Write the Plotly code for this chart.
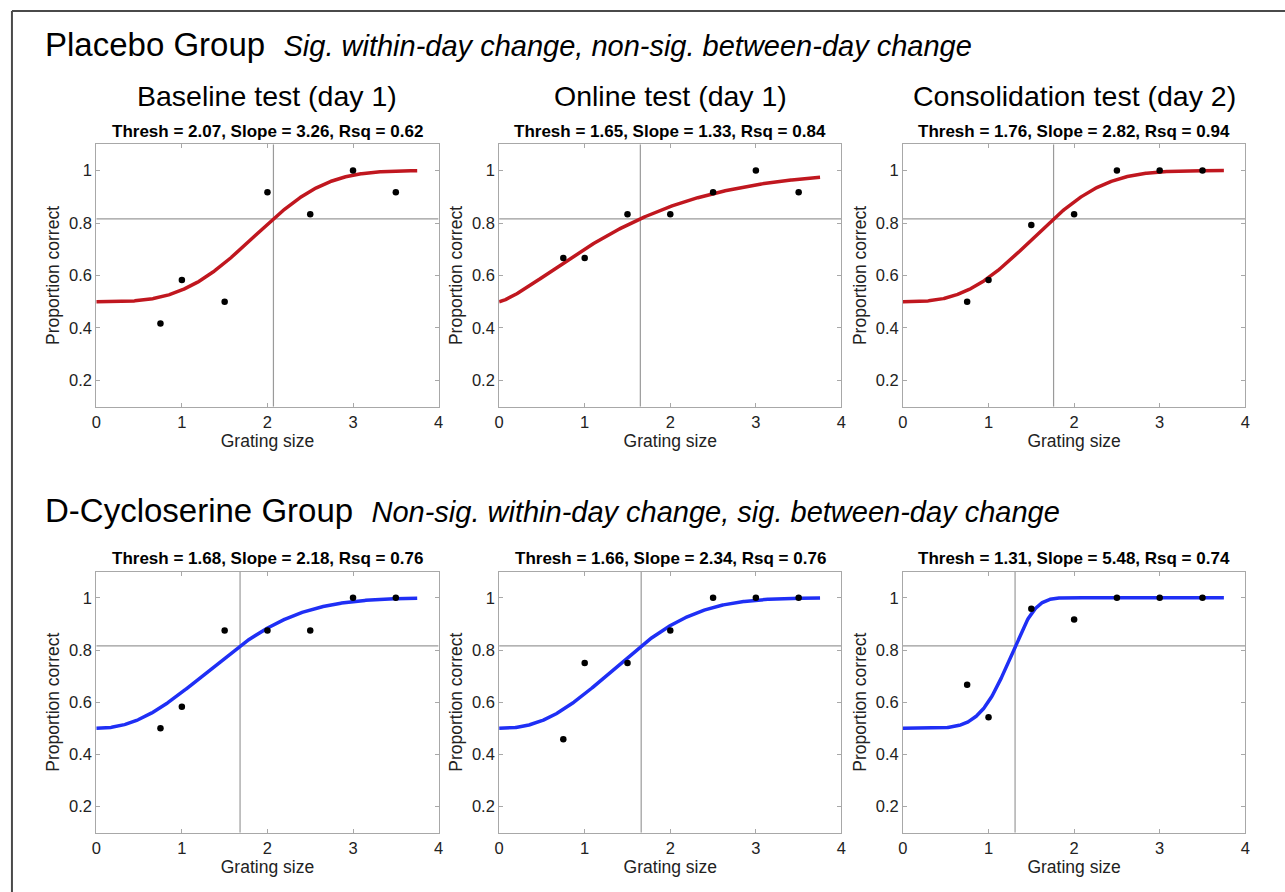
import numpy as np
import plotly.graph_objects as go

# ---- data ----
grating_sizes = [0.75, 1.0, 1.5, 2.0, 2.5, 3.0, 3.5]

placebo_baseline = [0.417, 0.583, 0.500, 0.917, 0.833, 1.000, 0.917]
placebo_online = [0.667, 0.667, 0.833, 0.833, 0.917, 1.000, 0.917]
placebo_consol = [0.500, 0.583, 0.792, 0.833, 1.000, 1.000, 1.000]
dcs_baseline = [0.500, 0.583, 0.875, 0.875, 0.875, 1.000, 1.000]
dcs_online = [0.458, 0.750, 0.750, 0.875, 1.000, 1.000, 1.000]
dcs_consol = [0.667, 0.542, 0.958, 0.917, 1.000, 1.000, 1.000]

thresholds = [2.07, 1.65, 1.76, 1.68, 1.66, 1.31]
slopes = [3.26, 1.33, 2.82, 2.18, 2.34, 5.48]
rsq = [0.62, 0.84, 0.94, 0.76, 0.76, 0.74]

column_titles = ["Baseline test (day 1)", "Online test (day 1)", "Consolidation test (day 2)"]
x_ticks = [0, 1, 2, 3, 4]
y_ticks = [0.2, 0.4, 0.6, 0.8, 1.0]
y_tick_labels = ["0.2", "0.4", "0.6", "0.8", "1"]

all_points = [placebo_baseline, placebo_online, placebo_consol,
              dcs_baseline, dcs_online, dcs_consol]
colors = ["#c0171f"] * 3 + ["#1f2ff5"] * 3

# ---- layout geometry (pixels) ----
W, H = 1285, 892
col_px = [(92, 437), (498, 843), (905, 1250)]
row_px = [(144.3, 406.7), (571.7, 832.7)]

FONT = "Liberation Sans, Arial, Helvetica, sans-serif"
TXT = "#222222"

fig = go.Figure()

def px2x(p):
    return p / W

def px2y(p):
    return 1 - p / H

annotations = []
shapes = []

guess_rate = 0.5
x_fit = np.linspace(0, 3.75, 400)

for i in range(6):
    r, c = divmod(i, 3)
    n = i + 1
    xa = "xaxis" if n == 1 else f"xaxis{n}"
    ya = "yaxis" if n == 1 else f"yaxis{n}"
    xr = "x" if n == 1 else f"x{n}"
    yr = "y" if n == 1 else f"y{n}"

    th, sl = thresholds[i], slopes[i]
    y_fit = guess_rate + (1 - guess_rate) * (1 - np.exp(-(x_fit / th) ** sl))
    y_thr = guess_rate + (1 - guess_rate) * (1 - np.exp(-1.0))

    # threshold guide lines
    fig.add_trace(go.Scatter(x=[0, 4], y=[y_thr, y_thr], mode="lines",
                             line=dict(color="#9a9a9a", width=1.2),
                             xaxis=xr, yaxis=yr, showlegend=False, hoverinfo="skip"))
    fig.add_trace(go.Scatter(x=[th, th], y=[0.1, 1.1], mode="lines",
                             line=dict(color="#9a9a9a", width=1.2),
                             xaxis=xr, yaxis=yr, showlegend=False, hoverinfo="skip"))
    # fitted curve
    fig.add_trace(go.Scatter(x=x_fit, y=y_fit, mode="lines",
                             line=dict(color=colors[i], width=3.5),
                             xaxis=xr, yaxis=yr, showlegend=False))
    # data points
    fig.add_trace(go.Scatter(x=grating_sizes, y=all_points[i], mode="markers",
                             marker=dict(color="black", size=6.5),
                             xaxis=xr, yaxis=yr, showlegend=False))

    x0, x1 = col_px[c]
    y0, y1 = row_px[r]
    common = dict(showline=True, mirror="ticks", linecolor="#a8a8a8", linewidth=1,
                  ticks="inside", ticklen=4, tickcolor="#a8a8a8",
                  showgrid=False, zeroline=False,
                  tickfont=dict(family=FONT, size=16.5, color=TXT))
    fig.layout[xa] = dict(domain=[px2x(x0), px2x(x1)], anchor=yr, range=[0, 4],
                          tickvals=x_ticks, ticktext=[str(t) for t in x_ticks],
                          title=dict(text="Grating size", standoff=2,
                                     font=dict(family=FONT, size=17.5, color=TXT)),
                          **common)
    fig.layout[ya] = dict(domain=[px2y(y1), px2y(y0)], anchor=xr, range=[0.1, 1.1],
                          tickvals=y_ticks, ticktext=y_tick_labels,
                          title=dict(text="Proportion correct", standoff=4,
                                     font=dict(family=FONT, size=17.5, color=TXT)),
                          **common)

    # panel subtitle
    annotations.append(dict(
        text=f"<b>Thresh = {th:.2f}, Slope = {sl:.2f}, Rsq = {rsq[i]:.2f}</b>",
        x=px2x((x0 + x1) / 2), y=px2y(y0 - 13), xref="paper", yref="paper",
        xanchor="center", yanchor="middle", showarrow=False,
        font=dict(family=FONT, size=17, color="black")))

for c in range(3):
    x0, x1 = col_px[c]
    annotations.append(dict(
        text=column_titles[c], x=px2x((x0 + x1) / 2), y=px2y(96),
        xref="paper", yref="paper", xanchor="center", yanchor="middle",
        showarrow=False, font=dict(family=FONT, size=28.5, color="black")))

annotations.append(dict(
    text="Placebo Group  <i><span style='font-size:29px'>Sig. within-day change, non-sig. between-day change</span></i>",
    x=px2x(38), y=px2y(45), xref="paper", yref="paper", xanchor="left", yanchor="middle",
    showarrow=False, font=dict(family=FONT, size=33, color="black")))
annotations.append(dict(
    text="D-Cycloserine Group  <i><span style='font-size:29px'>Non-sig. within-day change, sig. between-day change</span></i>",
    x=px2x(38), y=px2y(510), xref="paper", yref="paper", xanchor="left", yanchor="middle",
    showarrow=False, font=dict(family=FONT, size=33, color="black")))

# outer frame (left and top edges visible)
shapes.append(dict(type="line", xref="paper", yref="paper",
                   x0=px2x(7), x1=px2x(7), y0=px2y(11), y1=-0.05,
                   line=dict(color="#4a4a4a", width=2)))
shapes.append(dict(type="line", xref="paper", yref="paper",
                   x0=px2x(7), x1=1.05, y0=px2y(11), y1=px2y(11),
                   line=dict(color="#4a4a4a", width=2)))

fig.update_layout(width=W, height=H, margin=dict(l=0, r=0, t=0, b=0),
                  paper_bgcolor="white", plot_bgcolor="white",
                  annotations=annotations, shapes=shapes,
                  font=dict(family=FONT))

fig.write_html("out.html", config={"displayModeBar": False},
               post_script="document.body.style.margin='0';document.body.style.overflow='hidden';")
